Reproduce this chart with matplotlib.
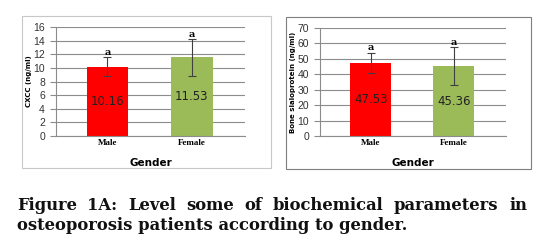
import matplotlib
matplotlib.use('Agg')
import matplotlib.pyplot as plt
from matplotlib.patches import Rectangle

# data
genders = ['Male', 'Female']
bar_colors = ['#ff0000', '#9bbb59']

ctxc = [10.16, 11.53]
ctxc_err = [1.4, 2.65]
bsp = [47.53, 45.36]
bsp_err = [6.5, 12.3]
letters = ['a', 'a']

caption1 = 'Figure 1A: Level some of biochemical parameters in'
caption2 = 'osteoporosis patients according to gender.'

fig = plt.figure(figsize=(5.42, 2.44), dpi=100)


def panel(rect, frame, vals, errs, ymax, step, ylabel, label_x, frame_col):
    fig.patches.append(Rectangle(frame[:2], frame[2], frame[3], transform=fig.transFigure,
                                 fill=False, edgecolor=frame_col, lw=0.8))
    ax = fig.add_axes(rect)
    x = [0, 1]
    ax.bar(x, vals, width=0.49, color=bar_colors, zorder=2)
    ax.errorbar(x, vals, yerr=errs, fmt='none', ecolor='#404040', elinewidth=0.8,
                capsize=3, capthick=0.8, zorder=3)
    for i, v in enumerate(vals):
        ax.text(i, v / 2, f'{v:.2f}', ha='center', va='center', fontsize=8.5,
                color='#222222', zorder=4)
        ax.text(i, v + errs[i] + ymax * 0.005, letters[i], ha='center', va='bottom',
                fontsize=7, fontweight='bold', family='DejaVu Serif', zorder=4)
    ax.set_xlim(-0.61, 1.63)
    ax.set_ylim(0, ymax)
    ax.set_yticks(range(0, ymax + 1, step))
    ax.yaxis.grid(True, color='#8c8c8c', lw=0.8, zorder=0)
    ax.set_axisbelow(True)
    ax.set_xticks(x)
    ax.set_xticklabels(genders, family='Liberation Serif', fontsize=6.5, fontweight='bold')
    ax.tick_params(axis='x', length=0, pad=2)
    ax.tick_params(axis='y', length=4, color='#8c8c8c', labelsize=7.5, labelcolor='#333333', pad=4)
    for t in ax.get_yticklabels():
        t.set_family('Liberation Sans')
    for s in ['top', 'right']:
        ax.spines[s].set_visible(False)
    for s in ['left', 'bottom']:
        ax.spines[s].set_color('#8c8c8c')
        ax.spines[s].set_linewidth(0.8)
    ax.set_ylabel(ylabel, fontsize=5, fontweight='bold')
    ax.yaxis.set_label_coords(label_x, 0.5)
    ax.set_xlabel('Gender', fontsize=7.5, fontweight='bold', labelpad=8)
    return ax


panel([0.1033, 0.4426, 0.3487, 0.4467], [0.0406, 0.3115, 0.4594, 0.623],
      ctxc, ctxc_err, 16, 2, 'CXCC (ng/ml)', -0.125, '#c8c8c8')
panel([0.5904, 0.4426, 0.3432, 0.4426], [0.5277, 0.3074, 0.452, 0.623],
      bsp, bsp_err, 70, 10, 'Bone sialoprotein (ng/ml)', -0.127, '#7f7f7f')

# caption, first line justified across the width
cap_kw = dict(family='DejaVu Serif', fontweight='bold', fontsize=11.8, color='#111111',
              va='center', ha='left')
x_left, x_right = 17 / 542, 527 / 542
fig.canvas.draw()
r = fig.canvas.get_renderer()
words = caption1.split()
texts = [fig.text(0, 1 - 205 / 244, w, **cap_kw) for w in words]
widths = [t.get_window_extent(r).width / fig.bbox.width for t in texts]
gap = (x_right - x_left - sum(widths)) / (len(words) - 1)
pos = x_left
for t, w in zip(texts, widths):
    t.set_x(pos)
    pos += w + gap
fig.text(x_left, 1 - 226 / 244, caption2, **cap_kw)

fig.savefig('out.png', dpi=100)
